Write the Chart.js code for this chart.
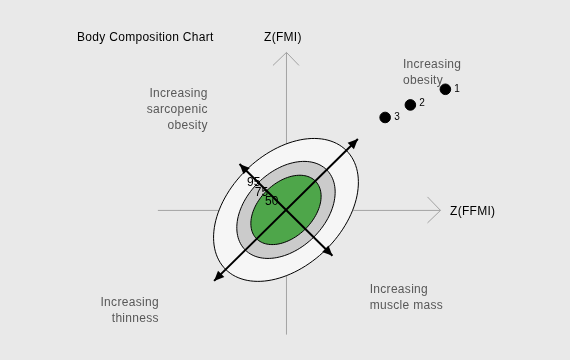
<!DOCTYPE html>
<html>
<head>
<meta charset="utf-8">
<script src="https://cdn.jsdelivr.net/npm/chart.js@4/dist/chart.umd.min.js"></script>
<style>
  html, body { margin: 0; background: #e9e9e9; }
</style>
</head>
<body>
<canvas id="myChart" width="570" height="360"></canvas>
<script>
// data ---------------------------------
const pointLabels = ["1", "2", "3"];
const zFFMI = [4.075, 3.18, 2.535];
const zFMI = [3.125, 2.72, 2.395];

// percentile ellipses (semi axes in z units), drawn outer to inner
const bandLabels = ["95", "75", "50"];
const bandMajor = [2.18, 1.47, 1.06];
const bandMinor = [1.45, 1.0, 0.7];
const bandAngle = 45; // degrees

const quadrantText = [
  ["Increasing", "obesity"],
  ["Increasing", "sarcopenic", "obesity"],
  ["Increasing", "thinness"],
  ["Increasing", "muscle mass"],
];

const bandFill = ["#f6f6f6", "#cbcbcb", "#4ea64a"];
const FONT = "Liberation Sans, Arial, sans-serif";

function toPx(chart, x, y) {
  return [chart.scales.x.getPixelForValue(x), chart.scales.y.getPixelForValue(y)];
}

function arrowHead(ctx, x1, y1, x2, y2, len, w) {
  const a = Math.atan2(y2 - y1, x2 - x1);
  ctx.beginPath();
  ctx.moveTo(x2, y2);
  ctx.lineTo(x2 - len * Math.cos(a) + w * Math.sin(a), y2 - len * Math.sin(a) - w * Math.cos(a));
  ctx.lineTo(x2 - len * Math.cos(a) - w * Math.sin(a), y2 - len * Math.sin(a) + w * Math.cos(a));
  ctx.closePath();
  ctx.fill();
}

const drawPlugin = {
  id: "bodyComp",
  beforeDraw(chart) {
    const ctx = chart.ctx;
    ctx.save();
    ctx.fillStyle = "#e9e9e9";
    ctx.fillRect(0, 0, chart.width, chart.height);

    // axes
    ctx.strokeStyle = "#a3a3a3";
    ctx.lineWidth = 1;
    const [xl, y0] = toPx(chart, -3.275, 0);
    const [xr] = toPx(chart, 3.95, 0);
    const [x0, yb] = toPx(chart, 0, -3.23);
    const [, yt] = toPx(chart, 0, 4.08);
    ctx.beginPath();
    ctx.moveTo(xl, y0 + 0.5); ctx.lineTo(xr, y0 + 0.5);
    ctx.moveTo(xr - 13, y0 - 13); ctx.lineTo(xr, y0 + 0.5); ctx.lineTo(xr - 13, y0 + 13);
    ctx.moveTo(x0 + 0.5, yb); ctx.lineTo(x0 + 0.5, yt);
    ctx.moveTo(x0 - 13, yt + 13); ctx.lineTo(x0 + 0.5, yt); ctx.lineTo(x0 + 13, yt + 13);
    ctx.stroke();

    // ellipses
    const th = bandAngle * Math.PI / 180;
    bandMajor.forEach((a, i) => {
      const b = bandMinor[i];
      ctx.beginPath();
      for (let k = 0; k <= 120; k++) {
        const t = k / 120 * Math.PI * 2;
        const u = a * Math.cos(t), v = b * Math.sin(t);
        const [px, py] = toPx(chart, u * Math.cos(th) - v * Math.sin(th), u * Math.sin(th) + v * Math.cos(th));
        if (k === 0) ctx.moveTo(px, py); else ctx.lineTo(px, py);
      }
      ctx.closePath();
      ctx.fillStyle = bandFill[i];
      ctx.fill();
      ctx.strokeStyle = "#000";
      ctx.lineWidth = 1;
      ctx.stroke();
    });

    // major and minor axis arrows
    ctx.strokeStyle = "#000";
    ctx.fillStyle = "#000";
    ctx.lineWidth = 2;
    const majLen = 2.6, minLen = 1.68;
    const [m1x, m1y] = toPx(chart, -majLen * Math.cos(th), -majLen * Math.sin(th));
    const [m2x, m2y] = toPx(chart, majLen * Math.cos(th), majLen * Math.sin(th));
    const [n1x, n1y] = toPx(chart, -minLen * Math.sin(th), minLen * Math.cos(th));
    const [n2x, n2y] = toPx(chart, minLen * Math.sin(th), -minLen * Math.cos(th));
    ctx.beginPath();
    ctx.moveTo(m1x, m1y); ctx.lineTo(m2x, m2y);
    ctx.moveTo(n1x, n1y); ctx.lineTo(n2x, n2y);
    ctx.stroke();
    arrowHead(ctx, m1x, m1y, m2x, m2y, 10, 4.5);
    arrowHead(ctx, m2x, m2y, m1x, m1y, 10, 4.5);
    arrowHead(ctx, n1x, n1y, n2x, n2y, 10, 4.5);
    arrowHead(ctx, n2x, n2y, n1x, n1y, 10, 4.5);

    // band labels along minor axis
    ctx.font = "12px " + FONT;
    ctx.textAlign = "center";
    ctx.textBaseline = "middle";
    const bandPos = [[-0.825, 0.7125], [-0.625, 0.45], [-0.3625, 0.2125]];
    bandLabels.forEach((l, i) => {
      const [px, py] = toPx(chart, bandPos[i][0], bandPos[i][1]);
      ctx.fillText(l, px, py);
    });
    ctx.restore();
  },
  afterDatasetsDraw(chart) {
    const ctx = chart.ctx;
    ctx.save();
    ctx.textBaseline = "alphabetic";
    ctx.letterSpacing = "0.3px";

    // titles
    ctx.fillStyle = "#000";
    ctx.font = "12px " + FONT;
    ctx.textAlign = "left";
    ctx.fillText("Body Composition Chart", 77, 41);
    ctx.fillText("Z(FMI)", 264, 41);
    ctx.fillText("Z(FFMI)", 450, 215);

    // point labels
    ctx.font = "10px " + FONT;
    ctx.letterSpacing = "0px";
    ctx.textBaseline = "middle";
    zFFMI.forEach((x, i) => {
      const [px, py] = toPx(chart, x, zFMI[i]);
      ctx.fillText(pointLabels[i], px + 9, py - (i === 1 ? 2 : 0));
    });

    // quadrant labels
    ctx.fillStyle = "#585858";
    ctx.font = "12px " + FONT;
    ctx.letterSpacing = "0.3px";
    ctx.textBaseline = "alphabetic";
    const qPos = [[2.99, 3.675, "left"], [-2.0, 2.925, "right"], [-3.25, -2.5, "right"], [2.14, -2.16, "left"]];
    quadrantText.forEach((lines, i) => {
      const [px, py] = toPx(chart, qPos[i][0], qPos[i][1]);
      ctx.textAlign = qPos[i][2];
      lines.forEach((s, j) => ctx.fillText(s, px, py + j * 16));
    });
    ctx.restore();
  },
};

const ctx = document.getElementById("myChart").getContext("2d");
const myChart = new Chart(ctx, {
  type: "scatter",
  data: {
    datasets: [
      {
        label: "subjects",
        data: zFFMI.map((x, i) => ({ x: x, y: zFMI[i] })),
        backgroundColor: "#000",
        borderColor: "#000",
        pointRadius: 5.3,
        pointHoverRadius: 5.3,
      },
    ],
  },
  options: {
    responsive: false,
    animation: false,
    layout: { padding: 0 },
    plugins: { legend: { display: false }, tooltip: { enabled: false } },
    scales: {
      x: { type: "linear", display: false, min: -7.15, max: 7.1 },
      y: { type: "linear", display: false, min: -3.725, max: 5.275 },
    },
  },
  plugins: [drawPlugin],
});
</script>
</body>
</html>
